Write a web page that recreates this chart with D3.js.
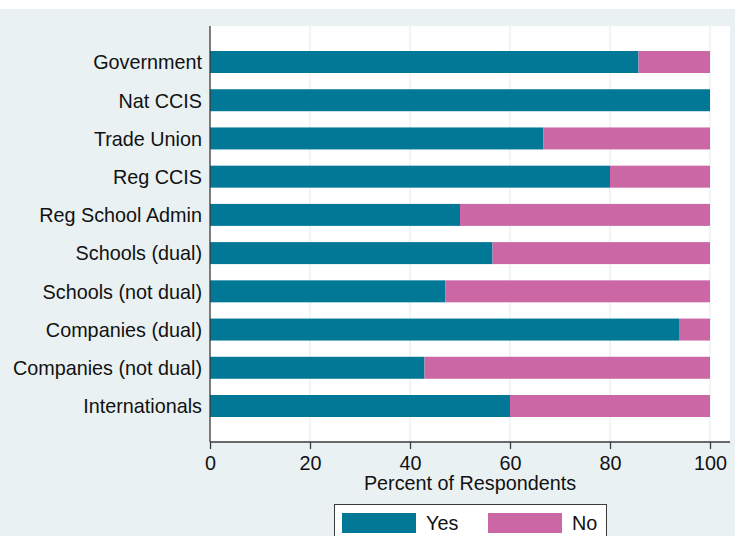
<!DOCTYPE html>
<html>
<head>
<meta charset="utf-8">
<script src="https://cdn.jsdelivr.net/npm/d3@7"></script>
<style>
html,body{margin:0;padding:0;background:#ffffff;}
svg{display:block;}
text{font-family:Arial,"Liberation Sans",sans-serif;fill:#111;}
</style>
</head>
<body>
<script>
const categories = ["Government","Nat CCIS","Trade Union","Reg CCIS","Reg School Admin","Schools (dual)","Schools (not dual)","Companies (dual)","Companies (not dual)","Internationals"];
const yesValues = [85.7, 100, 66.7, 80, 50, 56.5, 47.1, 93.8, 42.9, 60];
const noValues  = [14.3, 0, 33.3, 20, 50, 43.5, 52.9, 6.2, 57.1, 40];
const xTicks = [0, 20, 40, 60, 80, 100];
const seriesNames = ["Yes", "No"];
const seriesColors = ["#007896", "#cc67a6"];

const W = 735, H = 536;
const FS = "19.8px";
const svg = d3.select("body").append("svg").attr("width", W).attr("height", H);

// graph region background
svg.append("rect").attr("x",0).attr("y",9).attr("width",W).attr("height",H-9).attr("fill","#eaf1f3");

const plot = {left:210, right:730, top:26, bottom:442};
svg.append("rect").attr("x",plot.left).attr("y",plot.top)
  .attr("width",plot.right-plot.left).attr("height",plot.bottom-plot.top).attr("fill","#ffffff");

const x = d3.scaleLinear().domain([0,100]).range([210,710]);
const y = d3.scaleBand().domain(categories).range([plot.top, plot.bottom])
  .paddingInner(0.425).paddingOuter(0.6545);

// gridlines
svg.append("g").selectAll("line").data(xTicks.filter(d=>d>0)).join("line")
  .attr("x1",d=>x(d)).attr("x2",d=>x(d)).attr("y1",plot.top).attr("y2",plot.bottom)
  .attr("stroke","#e6eff1").attr("stroke-width",1.2);

// stacked bars
const rows = categories.map((c,i)=>({cat:c, Yes:yesValues[i], No:noValues[i]}));
const stack = d3.stack().keys(seriesNames)(rows);
svg.append("g").selectAll("g").data(stack).join("g")
  .attr("fill",(d,i)=>seriesColors[i])
  .selectAll("rect").data(d=>d).join("rect")
  .attr("x",d=>x(d[0])).attr("width",d=>x(d[1])-x(d[0]))
  .attr("y",d=>y(d.data.cat)).attr("height",y.bandwidth());

// y axis line + labels
svg.append("line").attr("x1",plot.left).attr("x2",plot.left).attr("y1",plot.top).attr("y2",plot.bottom)
  .attr("stroke","#3a3a3a").attr("stroke-width",1.3);
svg.append("g").selectAll("text").data(categories).join("text")
  .attr("x",202).attr("y",d=>y(d)+y.bandwidth()/2).attr("dy","0.37em")
  .attr("text-anchor","end").style("font-size",FS).text(d=>d);

// x axis
const xAxis = svg.append("g").attr("transform",`translate(0,${plot.bottom})`)
  .call(d3.axisBottom(x).tickValues(xTicks).tickSize(7).tickPadding(7).tickFormat(d3.format("d")));
xAxis.select(".domain").remove();
xAxis.selectAll(".tick line").attr("stroke","#3a3a3a").attr("stroke-width",1.3);
xAxis.selectAll(".tick text").style("font-size",FS).attr("fill","#111").style("font-family","Arial,'Liberation Sans',sans-serif");
svg.append("line").attr("x1",plot.left).attr("x2",plot.right).attr("y1",plot.bottom).attr("y2",plot.bottom)
  .attr("stroke","#3a3a3a").attr("stroke-width",1.3);

svg.append("text").attr("x",470).attr("y",490).attr("text-anchor","middle")
  .style("font-size",FS).text("Percent of Respondents");

// legend
const lg = svg.append("g");
lg.append("rect").attr("x",334.5).attr("y",504.5).attr("width",272).attr("height",60)
  .attr("fill","#ffffff").attr("stroke","#3a3a3a").attr("stroke-width",1);
const legendX = [342, 488];
const legendTextX = [426, 572];
seriesNames.forEach((s,i)=>{
  lg.append("rect").attr("x",legendX[i]).attr("y",513).attr("width",74).attr("height",20).attr("fill",seriesColors[i]);
  lg.append("text").attr("x",legendTextX[i]).attr("y",530).style("font-size",FS).text(s);
});
</script>
</body>
</html>
